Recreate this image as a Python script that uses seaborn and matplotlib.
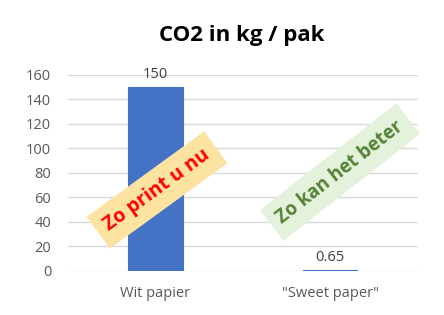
import matplotlib
matplotlib.use("Agg")
import matplotlib.pyplot as plt
import seaborn as sns
import pandas as pd

categories = ["Wit papier", "\"Sweet paper\""]
values = [150, 0.65]
value_labels = ["150", "0.65"]
yticks = [0, 20, 40, 60, 80, 100, 120, 140, 160]

sns.set_theme(style="white")
plt.rcParams['font.family'] = ['Open Sans', 'DejaVu Sans']

df = pd.DataFrame({"cat": categories, "val": values})

fig = plt.figure(figsize=(4.44, 3.15), dpi=100)
ax = fig.add_axes([0.153, 0.141, 0.788, 0.621])
sns.barplot(data=df, x="cat", y="val", color="#4472C4", saturation=1, width=0.31,
            edgecolor="#4472C4", linewidth=0.8, ax=ax)
ax.set_ylim(0, 160)
ax.set_yticks(yticks)
ax.set_yticklabels([str(t) for t in yticks], color="#595959", fontsize=10.5)
ax.tick_params(axis="x", colors="#595959", labelsize=10.5, length=0, pad=11)
ax.tick_params(axis="y", length=0, pad=12)
ax.yaxis.grid(True, color="#D9D9D9", linewidth=1)
ax.set_axisbelow(True)
for s in ax.spines.values():
    s.set_visible(False)
ax.set_xlabel("")
ax.set_ylabel("")
for i, (v, lab) in enumerate(zip(values, value_labels)):
    ax.annotate(lab, (i, v), xytext=(0, 3.5), textcoords="offset points",
                ha="center", va="bottom", color="#404040", fontsize=10.5)

fig.text(242/444, 1 - 35/315, "CO2 in kg / pak", ha="center", va="center",
         fontsize=16, fontweight="bold", color="black")

fig.text(157/444, 1 - 190/315, "Zo print u nu", rotation=36, ha="center", va="center",
         fontsize=14, fontweight="bold", color="#FF0000",
         bbox=dict(boxstyle="square,pad=0.5", facecolor="#FCE3A2", edgecolor="none"),
         rotation_mode="anchor")
fig.text(340/444, 1 - 172/315, "Zo kan het beter", rotation=38, ha="center", va="center",
         fontsize=13.5, fontweight="bold", color="#548235",
         bbox=dict(boxstyle="square,pad=0.5", facecolor="#E4F2DC", edgecolor="none"),
         rotation_mode="anchor")

fig.savefig("out.png", dpi=100)
